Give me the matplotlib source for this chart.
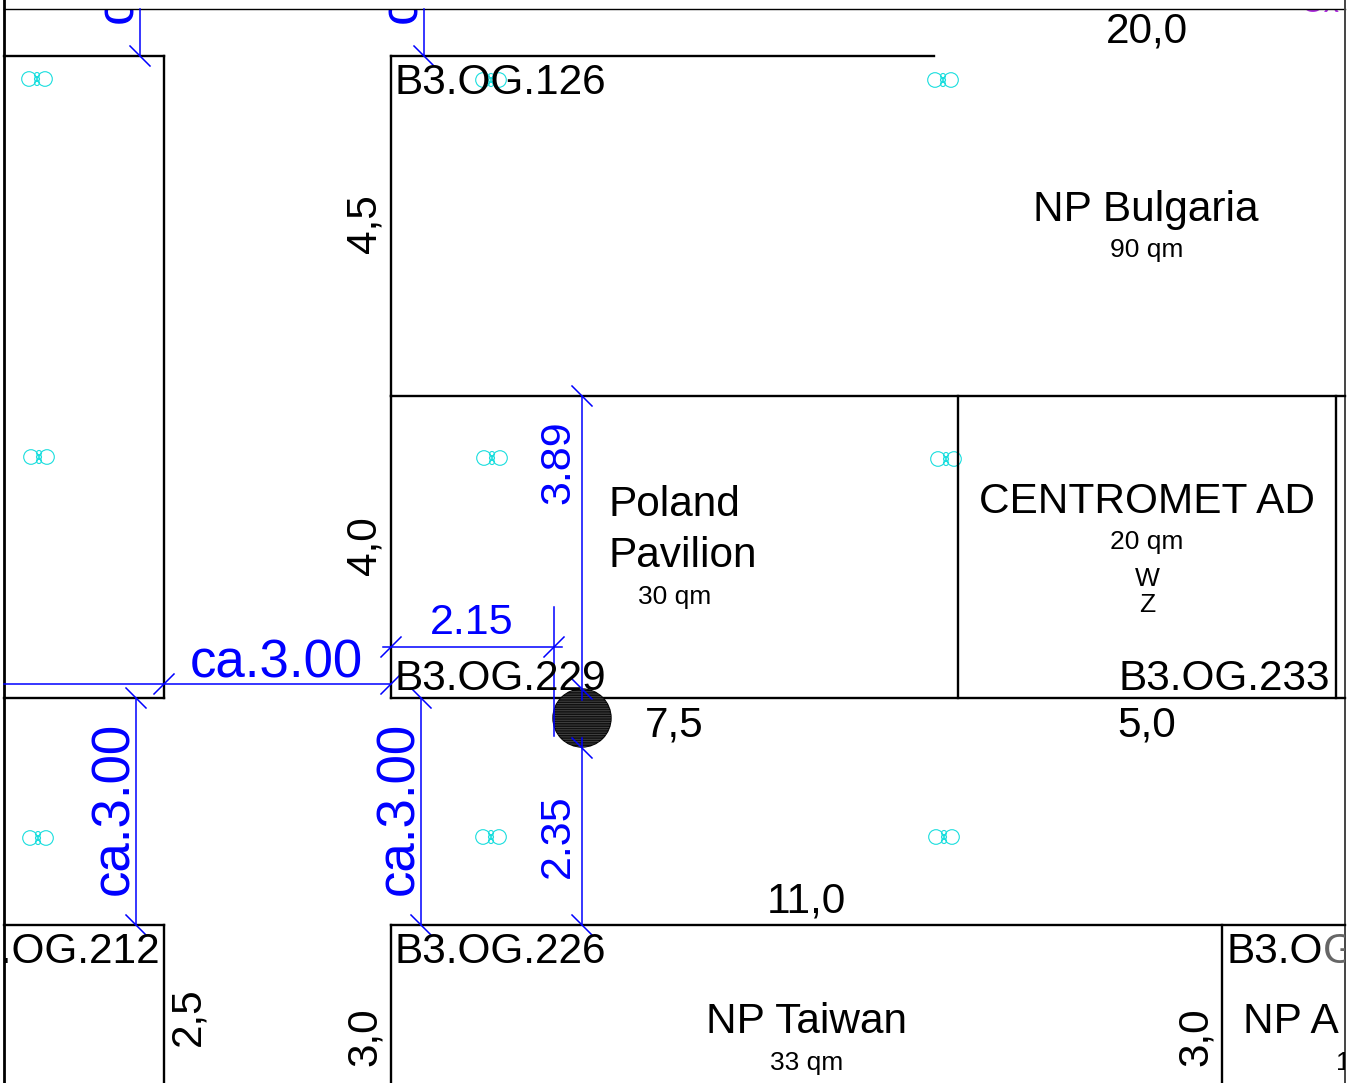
import matplotlib
matplotlib.use('Agg')
import matplotlib.pyplot as plt
from matplotlib.patches import Circle, Rectangle

plt.rcParams['font.family'] = ['Liberation Sans', 'DejaVu Sans']
plt.rcParams['hatch.linewidth'] = 0.6

BLUE = '#0000ff'
CYAN = '#19dede'
PURPLE = '#b030e0'
BIG = 30.5
SMALL = 19

# walls: x0, y0, x1, y1 in plan units
walls = [
    (4, 56, 164, 56), (164, 56, 164, 698), (4, 698, 164, 698),
    (391, 56, 934, 56), (391, 56, 391, 396), (391, 396, 1345, 396),
    (391, 396, 391, 698), (391, 698, 1345, 698), (958, 396, 958, 698),
    (1336, 396, 1336, 698), (4, 925, 164, 925), (164, 925, 164, 1083),
    (391, 925, 1345, 925), (391, 925, 391, 1083), (1222, 925, 1222, 1083),
]

# blue dimension lines
dim_lines = [
    (140, 9, 140, 56), (424, 9, 424, 56), (4, 684, 391, 684), (383, 647, 562, 647),
    (554, 607, 554, 736), (582, 396, 582, 700), (582, 738, 582, 925),
    (136, 698, 136, 925), (421, 698, 421, 925),
]
# dimension ticks: x, y, direction
dim_ticks = [
    (140, 56, 1), (424, 56, 1), (164, 684, -1), (391, 684, -1), (391, 647, -1), (554, 647, -1),
    (582, 396, 1), (582, 689, 1), (582, 748, 1), (582, 925, 1),
    (136, 698, 1), (136, 925, 1), (421, 698, 1), (421, 925, 1),
]

lamp_x = [37, 491, 943, 39, 492, 946, 38, 491, 944]
lamp_y = [79, 80, 80, 457, 458, 459, 838, 837, 837]

# text, x, y, size, ha, rotation
black_labels = [
    ('20,0', 1147, 32, BIG, 'center', 0), ('B3.OG.126', 395, 83, BIG, 'left', 0),
    ('NP Bulgaria', 1146, 210, BIG, 'center', 0), ('90 qm', 1147, 250, SMALL, 'center', 0),
    ('4,5', 365, 224, BIG, 'center', 90), ('4,0', 365, 546, BIG, 'center', 90),
    ('Poland', 609, 505, BIG, 'left', 0), ('Pavilion', 608, 556, BIG, 'left', 0),
    ('30 qm', 675, 597, SMALL, 'center', 0), ('CENTROMET AD', 1147, 502, BIG, 'center', 0),
    ('20 qm', 1147, 542, SMALL, 'center', 0), ('W', 1147, 579, SMALL, 'center', 0),
    ('Z', 1147, 605, SMALL, 'center', 0), ('B3.OG.229', 395, 679, BIG, 'left', 0),
    ('B3.OG.233', 1119, 679, BIG, 'left', 0), ('7,5', 674, 725, BIG, 'center', 0),
    ('5,0', 1147, 725, BIG, 'center', 0), ('11,0', 806, 901, BIG, 'center', 0),
    ('B3.OG.212', -52, 952, BIG, 'left', 0), ('B3.OG.226', 395, 952, BIG, 'left', 0),
    ('B3.O', 1227, 952, BIG, 'left', 0), ('NP Taiwan', 806, 1022, BIG, 'center', 0),
    ('33 qm', 807, 1063, SMALL, 'center', 0), ('NP A', 1243, 1022, BIG, 'left', 0),
    ('1', 1336, 1063, SMALL, 'left', 0), ('2,5', 188, 1017, BIG, 'center', 90),
    ('3,0', 365, 1037, BIG, 'center', 90), ('3,0', 1196, 1037, BIG, 'center', 90),
]

ca_labels = [('ca.3.00', 276, 663, 0), ('ca.3.00', 114, 808, 90), ('ca.3.00', 399, 808, 90)]
ca_cut_x = [118, 402]
narrow_labels = [('2.15', 472, 623, 0), ('3.89', 558, 462, 90), ('2.35', 558, 836, 90)]

fig = plt.figure(figsize=(13.51, 10.83), dpi=100)
ax = fig.add_axes([0, 0, 1, 1])
ax.set_xlim(0, 1351)
ax.set_ylim(1083, 0)
ax.axis('off')


def sheet_clip():
    # everything on the sheet stops at the frame
    return Rectangle((4, 9), 1341, 1074, transform=ax.transData)


def clipped_text(*args, **kwargs):
    t = ax.text(*args, **kwargs)
    t.set_clip_on(True)
    t.set_clip_path(sheet_clip())
    return t


ax.plot([4, 1345], [9, 9], color='black', lw=1.0, zorder=3)
ax.plot([4, 4], [0, 1083], color='black', lw=2.0, zorder=3)
ax.plot([1345, 1345], [0, 1083], color='#444444', lw=1.4, zorder=3)
for x0, y0, x1, y1 in walls:
    ax.plot([x0, x1], [y0, y1], color='black', lw=1.7, zorder=3, solid_capstyle='projecting')

for x, y in zip(lamp_x, lamp_y):
    for dx, dy, r in [(-8, 0, 7.3), (8, 0, 7.3), (0, -4, 2.5), (0, 0, 2.5), (0, 4, 2.5)]:
        ax.add_patch(Circle((x + dx, y + dy), r, fill=False, ec=CYAN, lw=0.8, zorder=2))

ax.add_patch(Circle((582, 718), 29, fc='#111111', ec='#000000', lw=1, zorder=4))
ax.add_patch(Circle((582, 718), 29, fc='none', ec='#484848', hatch='-------', lw=0, zorder=4))

# blue goes over the circle
for x0, y0, x1, y1 in dim_lines:
    ax.plot([x0, x1], [y0, y1], color=BLUE, lw=1.1, zorder=5)
for x, y, d in dim_ticks:
    ax.plot([x - 10, x + 10], [y - 10 * d, y + 10 * d], color=BLUE, lw=1.1, zorder=5)

for s, x, y, size, ha, rot in black_labels:
    clipped_text(x, y, s, fontsize=size, ha=ha, va='center', rotation=rot, color='black', zorder=6)
clipped_text(1323, 952, 'G', fontsize=BIG, ha='left', va='center', color='#666666', zorder=6)

for s, x, y, rot in ca_labels:
    ax.text(x, y, s, fontsize=38, ha='center', va='center', rotation=rot, color=BLUE, zorder=6)
# the two dimension texts running off the top of the sheet
for x in ca_cut_x:
    clipped_text(x, 23, 'ca.3.00', fontsize=38, ha='center', va='bottom', rotation=90, color=BLUE, zorder=1)
clipped_text(1300, 12, 'Ox', fontsize=22, ha='left', va='baseline', color=PURPLE, zorder=1)

for s, x, y, rot in narrow_labels:
    ax.text(x, y, s, fontsize=31, ha='center', va='center', rotation=rot, color=BLUE, zorder=6)

fig.savefig('out.png', dpi=100, facecolor='white')
